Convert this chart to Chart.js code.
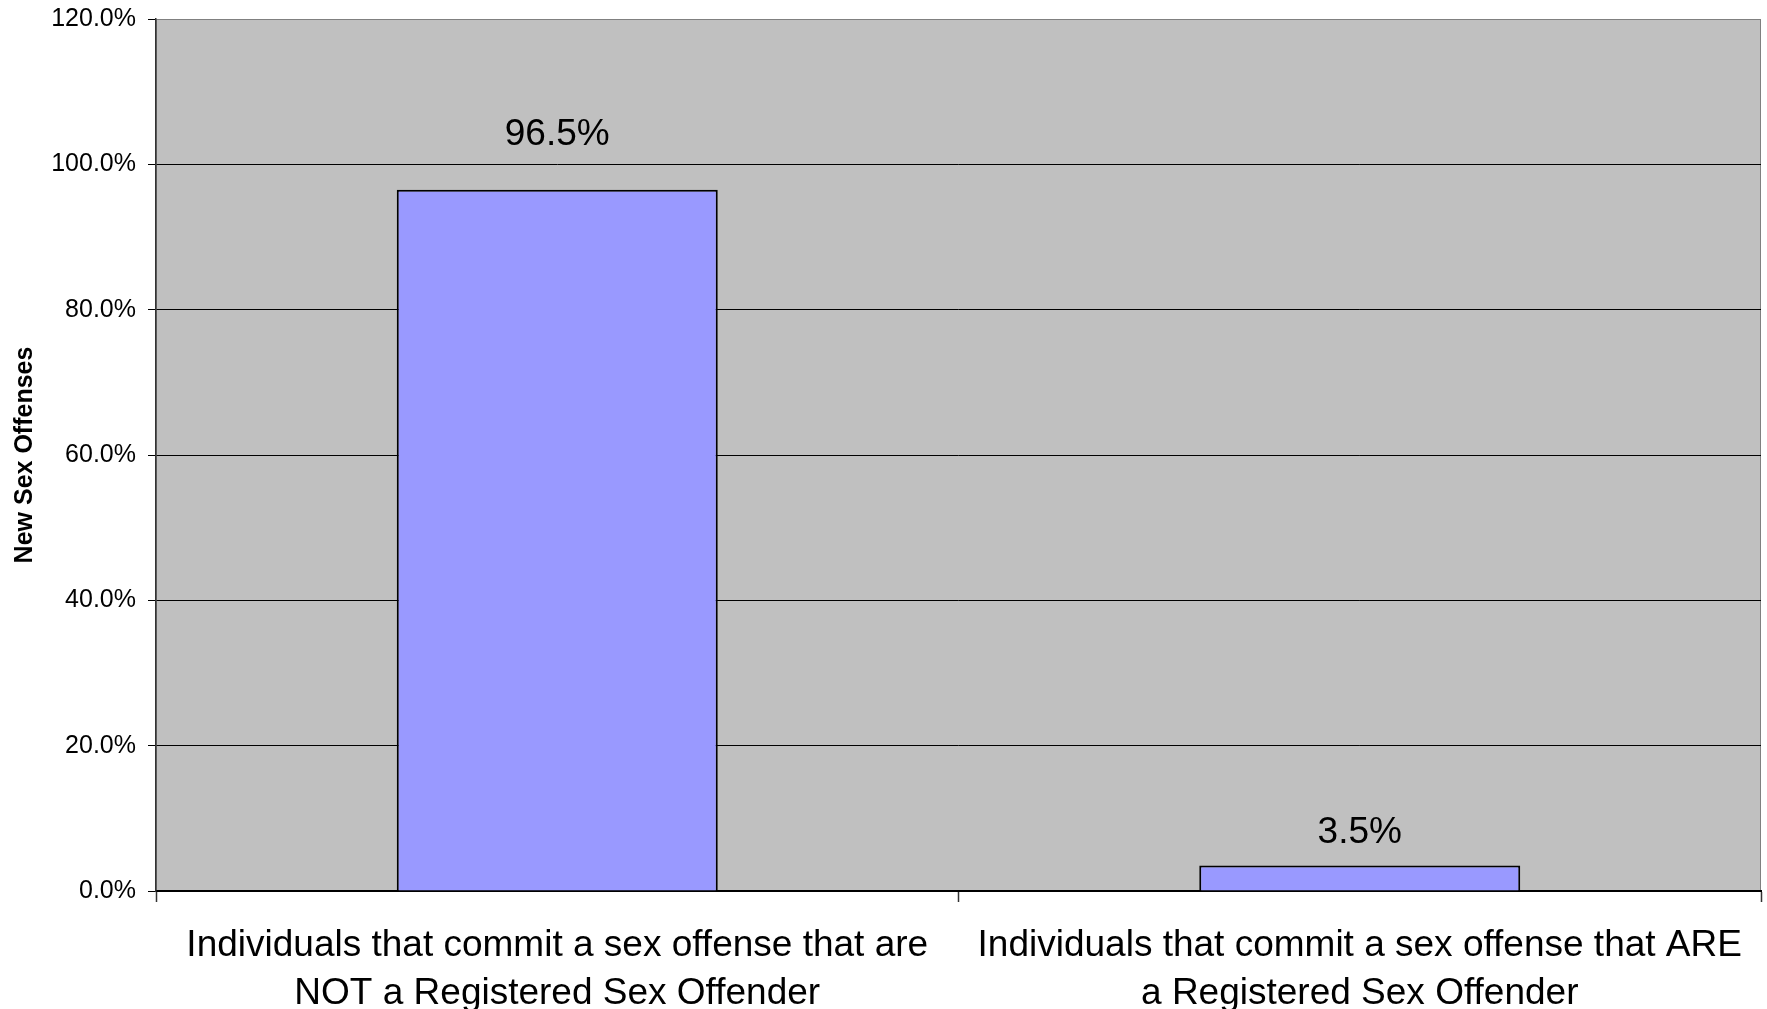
<!DOCTYPE html>
<html>
<head>
<meta charset="utf-8">
<script src="https://cdn.jsdelivr.net/npm/chart.js@4"></script>
<style>
  html, body { margin: 0; padding: 0; background: #fff; }
  #wrap { width: 1767px; height: 1009px; position: relative; }
</style>
</head>
<body>
<div id="wrap"><canvas id="canvas"></canvas></div>
<script>
// data
var categories = [
    ["Individuals that commit a sex offense that are", "NOT a Registered Sex Offender"],
    ["Individuals that commit a sex offense that ARE", "a Registered Sex Offender"]
];
var shareOfNewOffenses = [96.5, 3.5];
var yTicks = [0, 20, 40, 60, 80, 100, 120];
var yTitle = "New Sex Offenses";

var FONT = "Arial, 'Liberation Sans', sans-serif";

// grey plot area with a thin grey border, like the old Excel charts
var plotBackground = {
    id: 'plotBackground',
    beforeDraw: function(chart) {
        var a = chart.chartArea, c = chart.ctx;
        c.save();
        c.fillStyle = '#C0C0C0';
        c.fillRect(a.left, a.top, a.right - a.left, a.bottom - a.top);
        c.strokeStyle = '#808080';
        c.lineWidth = 1;
        c.strokeRect(a.left + 0.5, a.top + 0.5, a.right - a.left - 1, a.bottom - a.top - 1);
        c.restore();
    }
};

// value labels above the bars
var valueLabels = {
    id: 'valueLabels',
    afterDatasetsDraw: function(chart, args, opts) {
        var c = chart.ctx;
        var meta = chart.getDatasetMeta(0);
        c.save();
        c.font = '37px ' + FONT;
        c.fillStyle = '#000';
        c.textAlign = 'center';
        c.textBaseline = 'alphabetic';
        meta.data.forEach(function(bar, i) {
            var v = chart.data.datasets[0].data[i];
            c.fillText(v.toFixed(1) + '%', bar.x, bar.y - opts.offsets[i]);
        });
        c.restore();
    }
};

var myChart = {
    type: 'bar',
    data: {
        labels: categories,
        datasets: [{
            data: shareOfNewOffenses,
            backgroundColor: '#9999FF',
            borderColor: '#000',
            borderWidth: 2,
            barPercentage: 0.4,
            categoryPercentage: 1.0
        }]
    },
    options: {
        responsive: true,
        maintainAspectRatio: false,
        animation: false,
        layout: { padding: { top: 19, right: 6, left: 0, bottom: 0 } },
        plugins: {
            legend: { display: false },
            tooltip: { enabled: false },
            valueLabels: { offsets: [45, 23] }
        },
        scales: {
            x: {
                afterFit: function(s) { s.height = 118; },
                grid: {
                    offset: true,
                    drawOnChartArea: false,
                    tickLength: 11,
                    tickColor: '#333',
                    tickWidth: 1.5
                },
                border: { color: '#000', width: 2 },
                ticks: {
                    color: '#000',
                    font: { family: FONT, size: 37, lineHeight: 1.3 },
                    padding: 20,
                    maxRotation: 0,
                    autoSkip: false
                }
            },
            y: {
                min: 0,
                max: 120,
                afterFit: function(s) {
                    s.width = 156;
                    s.paddingTop = 0;
                    s.paddingBottom = 0;
                },
                afterBuildTicks: function(s) {
                    s.ticks = yTicks.map(function(v) { return { value: v }; });
                },
                title: {
                    display: true,
                    text: yTitle,
                    color: '#000',
                    font: { family: FONT, size: 25, weight: 'bold' },
                    padding: { top: 10, bottom: 0 }
                },
                grid: {
                    color: function(ctx) {
                        return ctx.tick && ctx.tick.value === 120 ? 'rgba(0,0,0,0)' : '#000';
                    },
                    tickColor: '#000',
                    tickLength: 8,
                    lineWidth: 1
                },
                border: { color: '#333', width: 1.5 },
                ticks: {
                    color: '#000',
                    font: { family: FONT, size: 25 },
                    padding: 12,
                    callback: function(v) { return v.toFixed(1) + '%'; }
                }
            }
        }
    },
    plugins: [plotBackground, valueLabels]
};

window.onload = function() {
    var ctx = document.getElementById("canvas").getContext("2d");
    new Chart(ctx, myChart);
};
</script>
</body>
</html>
